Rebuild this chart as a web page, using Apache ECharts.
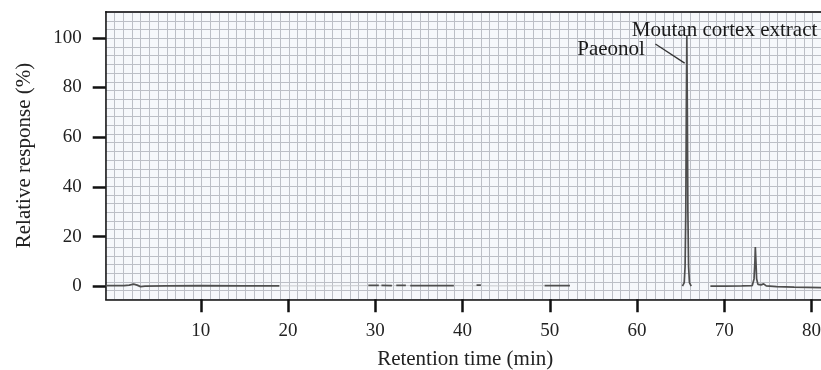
<!DOCTYPE html>
<html>
<head>
<meta charset="utf-8">
<script src="https://cdn.jsdelivr.net/npm/echarts@6/dist/echarts.min.js"></script>
<style>
html,body{margin:0;padding:0;background:#fff;}
#chart{width:821px;height:370px;}
</style>
</head>
<body>
<div id="chart"></div>
<script>
// ---- data ----
const xTicks = [10, 20, 30, 40, 50, 60, 70, 80];
const yTicks = [0, 20, 40, 60, 80, 100];
const xTitle = 'Retention time (min)';
const yTitle = 'Relative response (%)';
const labelExtract = 'Moutan cortex extract';
const labelPaeonol = 'Paeonol';

// chromatogram trace segments [time, response]
const segA = [[-0.9,0.3],[1.2,0.3],[1.8,0.5],[2.3,0.9],[2.7,0.5],[3.1,-0.1],[3.6,0.1],[6,0.2],[10,0.3],[15,0.2],[19,0.2]];
const segB1 = [[29.2,0.4],[30.4,0.4]];
const segB2 = [[30.7,0.4],[31.9,0.3]];
const segB3 = [[32.4,0.4],[33.5,0.4]];
const segB4 = [[34.0,0.3],[36.5,0.3],[39.0,0.3]];
const segC = [[41.6,0.5],[42.1,0.5]];
const segD = [[49.4,0.3],[52.3,0.3]];
const peakSeg = [[65.2,0.1],[65.4,1.5],[65.5,8],[65.58,30],[65.64,70],[65.7,101],[65.76,70],[65.82,30],[65.9,8],[66.0,1.5],[66.2,0.1]];
const tailSeg = [[68.4,0.1],[70,0.1],[72,0.2],[73.2,0.3],[73.4,3],[73.5,10],[73.55,15.8],[73.62,10],[73.7,3],[73.85,0.8],[74.2,0.6],[74.5,1.0],[74.8,0.2],[76,-0.1],[78,-0.3],[81.5,-0.5]];
const faintSeg = [[19,0.2],[24,0.2],[29.2,0.3],[39,0.3],[44,0.2],[49.4,0.3]];

// annotation anchors (data coords)
const leader = [[62.1, 97.5], [65.45, 89.8]];
const extractAnchor = [59.4, 103.0];
const paeonolAnchor = [60.9, 95.5];

const FONT = '"Liberation Serif", "DejaVu Serif", serif';
const traceSegs = [segA, segB1, segB2, segB3, segB4, segC, segD, peakSeg, tailSeg];

const chart = echarts.init(document.getElementById('chart'), null, {renderer: 'canvas'});

const series = [{
  type: 'line', xAxisIndex: 0, yAxisIndex: 0, data: faintSeg, showSymbol: false,
  lineStyle: {color: '#c8cacd', width: 1}, silent: true, animation: false
}];
traceSegs.forEach(function (s, i) {
  series.push({
    type: 'line', xAxisIndex: 0, yAxisIndex: 0, data: s, showSymbol: false,
    lineStyle: {color: '#4e4e4e', width: 1.7}, silent: true, animation: false,
    markLine: i === 0 ? {
      silent: true, symbol: 'none', animation: false,
      lineStyle: {color: '#333', width: 1.3, type: 'solid'},
      label: {show: false},
      data: [[{coord: leader[0]}, {coord: leader[1]}]]
    } : undefined
  });
});

chart.setOption({
  animation: false,
  backgroundColor: '#ffffff',
  grid: {
    left: 105.7, top: 11.7, width: 719, height: 287.6,
    outerBoundsMode: 'none', containLabel: false,
    show: true, backgroundColor: '#f6f8fb', borderWidth: 0
  },
  xAxis: [{
    type: 'value', min: -0.9, max: 81.5, position: 'bottom',
    axisLine: {show: true, onZero: false, lineStyle: {color: '#111', width: 1.5}},
    axisTick: {show: true, customValues: xTicks, length: 13, lineStyle: {color: '#111', width: 2.5}},
    axisLabel: {customValues: xTicks, margin: 22, fontSize: 19, color: '#222', fontFamily: FONT},
    splitLine: {show: false},
    name: xTitle, nameLocation: 'middle', nameGap: 50,
    nameTextStyle: {fontSize: 21, color: '#222', fontFamily: FONT}
  }, {
    type: 'value', min: -1, max: 81.4, interval: 1, position: 'top',
    axisLine: {show: true, onZero: false, lineStyle: {color: '#111', width: 1.5}},
    axisTick: {show: false}, axisLabel: {show: false},
    splitLine: {show: true, lineStyle: {color: '#bcbfc6', width: 1}}
  }],
  yAxis: [{
    type: 'value', min: -5.2, max: 110.5, position: 'left',
    axisLine: {show: true, onZero: false, lineStyle: {color: '#111', width: 1.5}},
    axisTick: {show: true, customValues: yTicks, length: 13, lineStyle: {color: '#111', width: 2.5}},
    axisLabel: {customValues: yTicks, margin: 24, fontSize: 19, color: '#222', fontFamily: FONT},
    splitLine: {show: false},
    name: yTitle, nameLocation: 'middle', nameGap: 71,
    nameTextStyle: {fontSize: 21, color: '#222', fontFamily: FONT}
  }, {
    type: 'value', min: -7, max: 108.7, interval: 3.5, position: 'right',
    axisLine: {show: false}, axisTick: {show: false}, axisLabel: {show: false},
    splitLine: {show: true, lineStyle: {color: '#bcbfc6', width: 1}}
  }],
  series: series
});

const pE = chart.convertToPixel({xAxisIndex: 0, yAxisIndex: 0}, extractAnchor);
const pP = chart.convertToPixel({xAxisIndex: 0, yAxisIndex: 0}, paeonolAnchor);
chart.setOption({
  graphic: [{
    type: 'text', x: pE[0], y: pE[1], z: 100,
    style: {text: labelExtract, font: '21px ' + FONT, fill: '#1a1a1a', textAlign: 'left', textVerticalAlign: 'middle', verticalAlign: 'middle'}
  }, {
    type: 'text', x: pP[0], y: pP[1], z: 100,
    style: {text: labelPaeonol, font: '21px ' + FONT, fill: '#1a1a1a', textAlign: 'right', textVerticalAlign: 'middle', verticalAlign: 'middle'}
  }]
});
</script>
</body>
</html>
